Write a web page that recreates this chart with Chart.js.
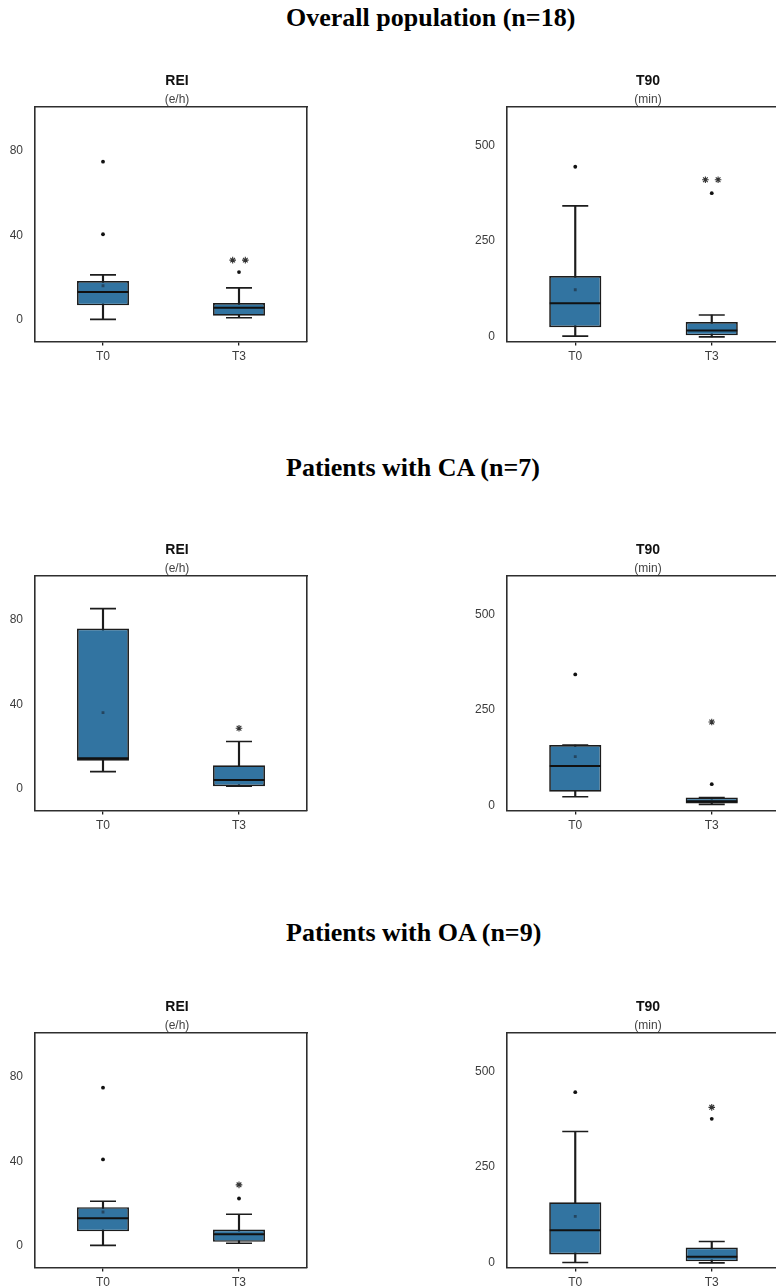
<!DOCTYPE html>
<html>
<head>
<meta charset="utf-8">
<script src="https://cdn.jsdelivr.net/npm/chart.js@4.4.1/dist/chart.umd.min.js"></script>
<style>
  html, body { margin: 0; padding: 0; background: #fff; }
  body { position: relative; width: 776px; height: 1288px; overflow: hidden; }
  .heading { position: absolute; left: 286px; font: bold 26px "Liberation Serif", "Times New Roman", serif; line-height: 26px; color: #000; white-space: nowrap; }
  .panel { position: absolute; }
</style>
</head>
<body>
<div class="heading" style="top:5px">Overall population (n=18)</div>
<div class="heading" style="top:455px">Patients with CA (n=7)</div>
<div class="heading" style="top:920px">Patients with OA (n=9)</div>

<div class="panel" style="left:0;top:60px;width:354px;height:309px"><canvas id="reiAll"></canvas></div>
<div class="panel" style="left:460px;top:60px;width:376px;height:309px"><canvas id="t90All"></canvas></div>
<div class="panel" style="left:0;top:529px;width:354px;height:309px"><canvas id="reiCA"></canvas></div>
<div class="panel" style="left:460px;top:529px;width:376px;height:309px"><canvas id="t90CA"></canvas></div>
<div class="panel" style="left:0;top:986px;width:354px;height:309px"><canvas id="reiOA"></canvas></div>
<div class="panel" style="left:460px;top:986px;width:376px;height:309px"><canvas id="t90OA"></canvas></div>

<script>
// Visits compared in every panel
const categories = ['T0', 'T3'];

// Axis ticks
const reiTicks = [0, 40, 80];
const t90Ticks = [0, 250, 500];
const reiRange = [-10.5, 101];
const t90Range = [-12, 600];

// REI (e/h) - overall population
const reiAllLow = [0, 0.8];
const reiAllQ1 = [6.7, 1.8];
const reiAllMedian = [13, 5.5];
const reiAllQ3 = [18.3, 7.8];
const reiAllHigh = [21.2, 15];
const reiAllMean = [16, null];
const reiAllOutliers = [[75, 40.5], [22.5]];
const reiAllExtremes = [[], [28.2, 28.2]];

// T90 (min) - overall population
const t90AllLow = [2, 0];
const t90AllQ1 = [25, 4];
const t90AllMedian = [88, 17];
const t90AllQ3 = [159, 39];
const t90AllHigh = [342, 57];
const t90AllMean = [123, null];
const t90AllOutliers = [[444], [375]];
const t90AllExtremes = [[], [410, 410]];

// REI (e/h) - central apnoea
const reiCALow = [8, 1];
const reiCAQ1 = [13.2, 1];
const reiCAMedian = [14.4, 4];
const reiCAQ3 = [76, 11];
const reiCAHigh = [85.5, 22.3];
const reiCAMean = [36, null];
const reiCAOutliers = [[], []];
const reiCAExtremes = [[], [28.6]];

// T90 (min) - central apnoea
const t90CALow = [24, 4];
const t90CAQ1 = [37, 6];
const t90CAMedian = [104, 12];
const t90CAQ3 = [159, 22];
const t90CAHigh = [159, 22];
const t90CAMean = [128.5, null];
const t90CAOutliers = [[343], [56.6]];
const t90CAExtremes = [[], [219]];

// REI (e/h) - obstructive apnoea
const reiOALow = [0, 1];
const reiOAQ1 = [6.7, 1.7];
const reiOAMedian = [12.9, 5.3];
const reiOAQ3 = [18.2, 7.6];
const reiOAHigh = [21, 14.8];
const reiOAMean = [15.9, null];
const reiOAOutliers = [[75, 40.9], [22.3]];
const reiOAExtremes = [[], [28.8]];

// T90 (min) - obstructive apnoea
const t90OALow = [1, 0];
const t90OAQ1 = [22, 4];
const t90OAMedian = [85, 16];
const t90OAQ3 = [158, 40];
const t90OAHigh = [343, 56];
const t90OAMean = [121.5, null];
const t90OAOutliers = [[445.6], [376]];
const t90OAExtremes = [[], [406]];

const BOX_FILL = '#3274a1';
const LINE = '#1c1c1c';
const FRAME = '#2e2e2e';
const TICK_TEXT = '#3c3c3c';

Chart.defaults.font.family = '"Liberation Sans", Arial, sans-serif';

// Outliers sit on the category centre
function atCentre(lists) {
  return lists.flatMap((vals, i) => vals.map(v => ({ x: i, y: v })));
}

// Tied extreme values sit side by side around the category centre
function spreadOut(lists) {
  const step = 0.093;
  return lists.flatMap((vals, i) => vals.map((v, k) => ({ x: i + (k - (vals.length - 1) / 2) * step, y: v })));
}

function boxPanel(id, s, range, tickVals, title, unit, leftW, rightW) {
  const frame = { display: true, color: FRAME, width: 1.6 };
  new Chart(document.getElementById(id), {
    type: 'bar',
    data: {
      labels: categories,
      datasets: [
        { label: 'whisker', data: categories.map((_, i) => [s.low[i], s.high[i]]),
          backgroundColor: LINE, barThickness: 1.5, maxBarThickness: 1.5, grouped: false, order: 5 },
        { label: 'box', data: categories.map((_, i) => [s.q1[i], s.q3[i]]),
          backgroundColor: BOX_FILL, borderColor: LINE, borderWidth: 1.7, borderSkipped: false,
          barPercentage: 0.382, categoryPercentage: 1, grouped: false, order: 4 },
        { type: 'scatter', label: 'caps', xAxisID: 'xs',
          data: categories.flatMap((_, i) => [{ x: i, y: s.low[i] }, { x: i, y: s.high[i] }]),
          pointStyle: 'line', pointRadius: 13, pointBorderWidth: 1.6, pointBorderColor: LINE, order: 3 },
        { type: 'scatter', label: 'median', xAxisID: 'xs',
          data: categories.map((_, i) => ({ x: i, y: s.median[i] })),
          pointStyle: 'line', pointRadius: 25.5, pointBorderWidth: 2, pointBorderColor: '#111', order: 2 },
        { type: 'scatter', label: 'mean', xAxisID: 'xs',
          data: categories.map((_, i) => ({ x: i, y: s.mean[i] })).filter(p => p.y !== null),
          pointStyle: 'rect', pointRadius: 2, pointBackgroundColor: '#24455f', pointBorderWidth: 0, order: 1 },
        { type: 'scatter', label: 'outliers', xAxisID: 'xs', data: atCentre(s.outliers),
          pointStyle: 'circle', pointRadius: 1.9, pointBackgroundColor: '#111', pointBorderWidth: 0, order: 0 },
        { type: 'scatter', label: 'extremes', xAxisID: 'xs', data: spreadOut(s.extremes),
          pointStyle: 'star', pointRadius: 3.3, pointBorderWidth: 1.1, pointBorderColor: '#333', order: 0 }
      ]
    },
    options: {
      responsive: true,
      maintainAspectRatio: false,
      animation: false,
      events: [],
      layout: { padding: 0 },
      plugins: {
        legend: { display: false },
        tooltip: { enabled: false },
        title: { display: true, text: title, color: '#111',
          font: { size: 14, weight: 'bold', lineHeight: 1.2 }, padding: { top: 13, bottom: 0 } },
        subtitle: { display: true, text: unit, color: '#444',
          font: { size: 12, lineHeight: 1.2 }, padding: { top: 2.8, bottom: 0 } }
      },
      scales: {
        x: {
          type: 'category', position: 'bottom', offset: true,
          grid: { display: true, drawOnChartArea: false, drawTicks: true, tickLength: 4,
                  color: LINE, lineWidth: 1.3, offset: false },
          border: frame,
          ticks: { color: TICK_TEXT, font: { size: 12 }, padding: 4, maxRotation: 0 },
          afterFit: a => { a.height = 26; }
        },
        x2: {
          type: 'category', position: 'top', offset: true,
          grid: { display: false }, ticks: { display: false }, border: frame,
          afterFit: a => { a.height = 0; }
        },
        y: {
          type: 'linear', position: 'left', min: range[0], max: range[1],
          grid: { display: false }, border: frame,
          ticks: { color: TICK_TEXT, font: { size: 12 }, padding: 4 },
          afterBuildTicks: a => { a.ticks = tickVals.map(v => ({ value: v })); },
          afterFit: a => { a.width = leftW; }
        },
        y2: {
          type: 'linear', position: 'right',
          grid: { display: false }, ticks: { display: false }, border: frame,
          afterFit: a => { a.width = rightW; }
        },
        // Continuous twin of the category axis: -0.5..1.5 puts 0 and 1 on the category centres
        xs: { type: 'linear', display: false, offset: false, min: -0.5, max: 1.5,
              grid: { offset: false } }
      }
    }
  });
}

boxPanel('reiAll', { low: reiAllLow, q1: reiAllQ1, median: reiAllMedian, q3: reiAllQ3, high: reiAllHigh,
  mean: reiAllMean, outliers: reiAllOutliers, extremes: reiAllExtremes }, reiRange, reiTicks, 'REI', '(e/h)', 35, 47);
boxPanel('t90All', { low: t90AllLow, q1: t90AllQ1, median: t90AllMedian, q3: t90AllQ3, high: t90AllHigh,
  mean: t90AllMean, outliers: t90AllOutliers, extremes: t90AllExtremes }, t90Range, t90Ticks, 'T90', '(min)', 47, 56);
boxPanel('reiCA', { low: reiCALow, q1: reiCAQ1, median: reiCAMedian, q3: reiCAQ3, high: reiCAHigh,
  mean: reiCAMean, outliers: reiCAOutliers, extremes: reiCAExtremes }, reiRange, reiTicks, 'REI', '(e/h)', 35, 47);
boxPanel('t90CA', { low: t90CALow, q1: t90CAQ1, median: t90CAMedian, q3: t90CAQ3, high: t90CAHigh,
  mean: t90CAMean, outliers: t90CAOutliers, extremes: t90CAExtremes }, t90Range, t90Ticks, 'T90', '(min)', 47, 56);
boxPanel('reiOA', { low: reiOALow, q1: reiOAQ1, median: reiOAMedian, q3: reiOAQ3, high: reiOAHigh,
  mean: reiOAMean, outliers: reiOAOutliers, extremes: reiOAExtremes }, reiRange, reiTicks, 'REI', '(e/h)', 35, 47);
boxPanel('t90OA', { low: t90OALow, q1: t90OAQ1, median: t90OAMedian, q3: t90OAQ3, high: t90OAHigh,
  mean: t90OAMean, outliers: t90OAOutliers, extremes: t90OAExtremes }, t90Range, t90Ticks, 'T90', '(min)', 47, 56);
</script>
</body>
</html>
